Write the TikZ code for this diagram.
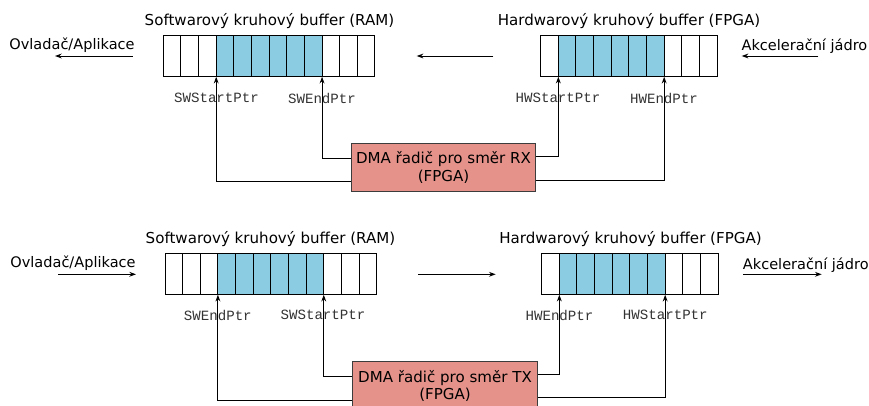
\documentclass[tikz,border=0pt]{standalone}
\usepackage{fontspec}
\setmainfont{DejaVu Sans}
\newfontfamily\monof{Liberation Mono}
\usetikzlibrary{arrows.meta,calc}
\definecolor{cellblue}{RGB}{140,204,226}
\definecolor{dmasalmon}{RGB}{228,146,138}
\definecolor{dmaedge}{RGB}{60,60,60}
\tikzset{
  cell/.style={draw=black, line width=0.75pt, minimum width=13.23pt, minimum height=30.8pt, inner sep=0pt, outer sep=0pt},
  fullcell/.style={cell, fill=cellblue},
  emptycell/.style={cell, fill=white},
  dmabox/.style={draw=dmaedge, line width=0.8pt, fill=dmasalmon, minimum width=138.5pt, minimum height=36.3pt, align=center, inner sep=1pt, font=\fontsize{11.3}{13.2}\selectfont},
  title/.style={font=\fontsize{11.3}{13}\selectfont, inner sep=0pt},
  side/.style={font=\fontsize{10.9}{13}\selectfont, inner sep=0pt},
  ptr/.style={font=\monof\fontsize{10.6}{12}\selectfont, text=black!80, inner sep=0pt},
  conn/.style={line width=0.75pt, -{Stealth[length=5pt,width=3.6pt]}},
}
\begin{document}
\begin{tikzpicture}[x=0.75pt,y=-0.75pt]
\useasboundingbox (0,0) rectangle (869,405);
% ---------- top (RX) ----------
\foreach \i in {1,...,12}{
  \pgfmathtruncatemacro{\b}{(\i>3)&&(\i<10)}
  \ifnum\b=1 \def\st{fullcell}\else\def\st{emptycell}\fi
  \node[\st] (rs\i) at ({163.3+(\i-0.5)*17.64},56.2) {};
}
\foreach \i in {1,...,10}{
  \pgfmathtruncatemacro{\b}{(\i>1)&&(\i<8)}
  \ifnum\b=1 \def\st{fullcell}\else\def\st{emptycell}\fi
  \node[\st] (rh\i) at ({540.7+(\i-0.5)*17.64},56.2) {};
}
\node[title] (rswt) at (269.5,20.7) {Softwarový kruhový buffer (RAM)};
\node[title] (rhwt) at (629,20.7) {Hardwarový kruhový buffer (FPGA)};
\node[side] (rova) at (72,45) {Ovladač/Aplikace};
\node[side] (racc) at (804.5,46.5) {Akcelerační jádro};
\coordinate (ra1s) at (132.7,56);
\coordinate (ra1e) at (55,56);
\coordinate (ra2s) at (493.3,56);
\coordinate (ra2e) at (416.7,56);
\coordinate (ra3s) at (818.3,56);
\coordinate (ra3e) at (741.7,56);
\draw[conn] (ra1s) -- (ra1e);
\draw[conn] (ra2s) -- (ra2e);
\draw[conn] (ra3s) -- (ra3e);
\node[ptr] (rlss) at (216.5,98.3) {SWStartPtr};
\node[ptr] (rlse) at (322,98.3) {SWEndPtr};
\node[ptr] (rlhs) at (558,98.3) {HWStartPtr};
\node[ptr] (rlhe) at (664,98.3) {HWEndPtr};
\node[dmabox] (rx) at (443.5,167.5) {DMA řadič pro směr RX\\(FPGA)};
\draw[conn] ([yshift=-10.6pt]rx.west) -| (rs4.south west);
\draw[conn] ([yshift=6.9pt]rx.west) -| (rs9.south east);
\draw[conn] ([yshift=8.6pt]rx.east) -| (rh2.south west);
\draw[conn] ([yshift=-9.4pt]rx.east) -| (rh7.south east);
% ---------- bottom (TX) ----------
\foreach \i in {1,...,12}{
  \pgfmathtruncatemacro{\b}{(\i>3)&&(\i<10)}
  \ifnum\b=1 \def\st{fullcell}\else\def\st{emptycell}\fi
  \node[\st] (ts\i) at ({165+(\i-0.5)*17.64},274.2) {};
}
\foreach \i in {1,...,10}{
  \pgfmathtruncatemacro{\b}{(\i>1)&&(\i<8)}
  \ifnum\b=1 \def\st{fullcell}\else\def\st{emptycell}\fi
  \node[\st] (th\i) at ({541.7+(\i-0.5)*17.64},274.2) {};
}
\node[title] (tswt) at (270.5,239.3) {Softwarový kruhový buffer (RAM)};
\node[title] (thwt) at (630.5,239.3) {Hardwarový kruhový buffer (FPGA)};
\node[side] (tova) at (73,263.3) {Ovladač/Aplikace};
\node[side] (tacc) at (805.8,265) {Akcelerační jádro};
\coordinate (ta1s) at (58.3,274.3);
\coordinate (ta1e) at (136,274.3);
\coordinate (ta2s) at (418.3,274.3);
\coordinate (ta2e) at (495.7,274.3);
\coordinate (ta3s) at (743.3,274.3);
\coordinate (ta3e) at (821.7,274.3);
\draw[conn] (ta1s) -- (ta1e);
\draw[conn] (ta2s) -- (ta2e);
\draw[conn] (ta3s) -- (ta3e);
\node[ptr] (tlse) at (217.8,315.3) {SWEndPtr};
\node[ptr] (tlss) at (323,315.3) {SWStartPtr};
\node[ptr] (tlhe) at (559.5,315.3) {HWEndPtr};
\node[ptr] (tlhs) at (665.3,315.3) {HWStartPtr};
\node[dmabox] (tx) at (445,385.9) {DMA řadič pro směr TX\\(FPGA)};
\draw[conn] ([yshift=-10.6pt]tx.west) -| (ts4.south west);
\draw[conn] ([yshift=6.9pt]tx.west) -| (ts9.south east);
\draw[conn] ([yshift=8.7pt]tx.east) -| (th2.south west);
\draw[conn] ([yshift=-8.6pt]tx.east) -| (th7.south east);
\end{tikzpicture}
\end{document}
